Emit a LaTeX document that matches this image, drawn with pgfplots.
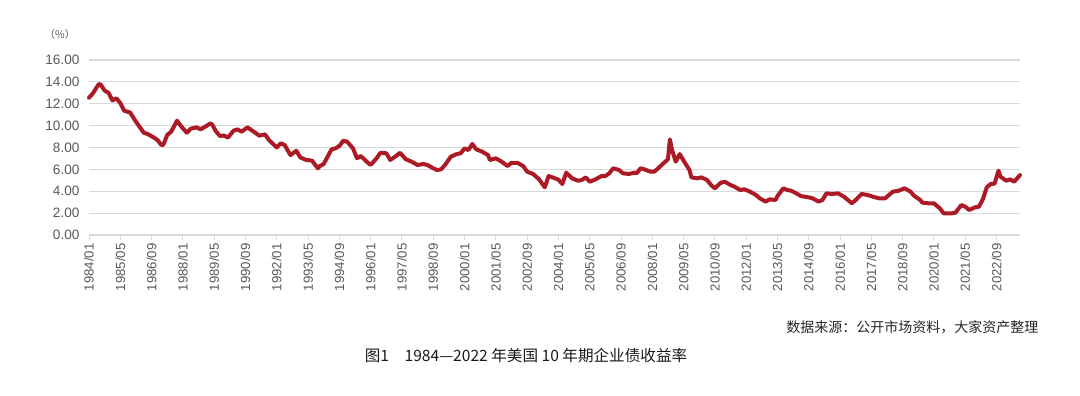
\documentclass[border=0pt]{standalone}
\usepackage{fontspec}
\setmainfont{Liberation Sans}
\newfontfamily\cjk{Noto Sans CJK SC}
\usepackage{pgfplots}
\pgfplotsset{compat=1.18}
\definecolor{linered}{RGB}{172,26,38}
\definecolor{gridgray}{RGB}{217,217,217}
\definecolor{labgray}{RGB}{89,89,89}
\pgfplotstableread{
m v
0 12.55
2 12.95
5 13.8
6 13.75
8 13.2
10 13.0
12 12.3
14 12.5
16 12.06
18 11.36
21 11.2
24 10.36
28 9.35
30 9.23
33 8.93
35 8.68
37 8.23
38 8.25
40 9.14
42 9.44
45 10.45
47 9.96
50 9.35
52 9.72
55 9.84
57 9.66
60 9.96
62 10.2
63 10.1
65 9.44
67 9.05
69 9.1
71 8.9
74 9.55
76 9.66
78 9.44
81 9.84
85 9.35
87 9.08
90 9.2
92 8.68
96 8.0
98 8.38
100 8.23
103 7.31
106 7.7
108 7.1
111 6.86
114 6.8
117 6.1
118 6.3
120 6.5
124 7.83
126 7.92
128 8.14
130 8.62
132 8.53
135 7.92
137 7.01
139 7.22
142 6.7
144 6.4
147 7.01
149 7.52
152 7.47
154 6.86
157 7.22
159 7.52
162 6.92
165 6.7
168 6.4
171 6.49
173 6.4
176 6.1
178 5.94
180 6.0
182 6.4
185 7.16
188 7.4
190 7.47
192 7.92
194 7.77
196 8.32
198 7.83
201 7.62
204 7.31
205 6.86
208 7.01
211 6.7
214 6.3
216 6.6
219 6.6
222 6.3
224 5.79
227 5.58
230 5.12
233 4.36
235 5.39
238 5.2
240 5.06
242 4.66
244 5.7
247 5.18
250 4.96
252 5.03
254 5.27
256 4.87
259 5.09
262 5.39
264 5.39
266 5.64
268 6.1
271 5.94
273 5.64
276 5.58
279 5.7
280 5.64
282 6.1
284 6.0
287 5.79
289 5.79
291 6.1
294 6.6
296 6.92
297 8.75
298 7.83
300 6.7
302 7.4
304 6.8
307 5.94
308 5.27
311 5.18
313 5.27
316 5.03
318 4.57
320 4.27
323 4.78
325 4.87
328 4.57
330 4.42
333 4.11
335 4.18
338 3.96
341 3.66
343 3.35
346 3.05
348 3.26
351 3.2
352 3.56
355 4.27
357 4.11
359 4.05
361 3.87
364 3.56
368 3.44
370 3.35
373 3.05
375 3.2
377 3.81
380 3.75
383 3.81
386 3.5
388 3.2
390 2.9
392 3.2
395 3.75
398 3.66
402 3.44
404 3.35
407 3.35
409 3.66
411 3.96
414 4.05
417 4.27
420 3.96
422 3.56
425 3.2
426 2.96
429 2.9
432 2.9
433 2.74
435 2.44
437 1.98
441 1.98
443 2.04
446 2.74
448 2.59
450 2.29
453 2.53
455 2.59
457 3.26
459 4.36
461 4.66
463 4.7
465 5.88
466 5.33
469 4.96
471 5.09
473 4.87
476 5.48
}\yielddata
\begin{document}
\begin{tikzpicture}[x=1pt,y=1pt]
\path[use as bounding box] (0,0) rectangle (1080,396);
\begin{axis}[
  at={(89pt,161pt)}, anchor=south west,
  scale only axis, width=931pt, height=175pt,
  xmin=0, xmax=476, ymin=0, ymax=16,
  ytick={0,2,...,16},
  xtick={0,16,...,464},
  xticklabels={1984/01,1985/05,1986/09,1988/01,1989/05,1990/09,1992/01,1993/05,1994/09,1996/01,1997/05,1998/09,2000/01,2001/05,2002/09,2004/01,2005/05,2006/09,2008/01,2009/05,2010/09,2012/01,2013/05,2014/09,2016/01,2017/05,2018/09,2020/01,2021/05,2022/09},
  axis x line*=bottom, axis y line*=left,
  x axis line style={gridgray, line width=1.2pt, -},
  y axis line style={draw=none},
  xtick align=outside, major tick length=5pt,
  xtick style={gridgray, line width=1pt},
  ytick style={draw=none},
  ymajorgrids, grid style={gridgray, line width=1.2pt},
  x tick label style={rotate=90, anchor=east, font=\fontsize{13.2}{15}\selectfont, text=labgray},
  y tick label style={font=\fontsize{13.6}{15}\selectfont, text=labgray, anchor=east, xshift=-6pt},
  yticklabel style={/pgf/number format/.cd, fixed, fixed zerofill, precision=2, assume math mode=true},
  clip=false,
]
\addplot[linered, line width=4pt, line join=round, line cap=round] table[x=m, y=v] {\yielddata};
\end{axis}
\node[font=\cjk\fontsize{10.5}{12}\selectfont, text=labgray] at (60,361) {（\%）};
\node[anchor=east, font=\cjk\fontsize{14}{16}\selectfont, text=black!85] at (1042,69) {数据来源：公开市场资料，大家资产整理};
\node[font=\cjk\fontsize{15.6}{18}\selectfont, text=black!90] at (526,40) {图1\quad 1984—2022 年美国 10 年期企业债收益率};
\end{tikzpicture}
\end{document}
